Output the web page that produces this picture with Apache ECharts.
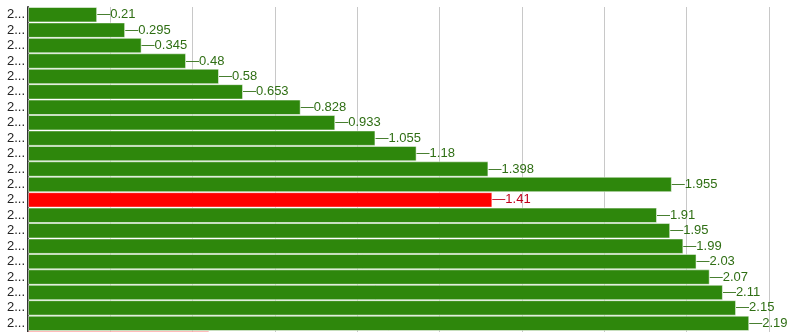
<!DOCTYPE html>
<html><head><meta charset="utf-8">
<script src="https://cdn.jsdelivr.net/npm/echarts@6/dist/echarts.min.js"></script>
<style>html,body{margin:0;padding:0;background:#fff}#c{width:792px;height:332px}</style>
</head><body><div id="c"></div>
<script>
var categories = ["2000","2001","2002","2003","2004","2005","2006","2007","2008","2009","2010","2011","2012","2013","2014","2015","2016","2017","2018","2019","2020","2021"];
var values = [0.21,0.295,0.345,0.48,0.58,0.653,0.828,0.933,1.055,1.18,1.398,1.955,1.41,1.91,1.95,1.99,2.03,2.07,2.11,2.15,2.19,0.55];
var highlighted = [12, 21];
var xTicks = {min: 0, max: 2.25, interval: 0.25};

var GREEN = '#2e870c', RED = '#ff0000';
var data = values.map(function (v, i) {
  var red = highlighted.indexOf(i) >= 0;
  return {
    value: v,
    itemStyle: {color: red ? RED : GREEN},
    label: {color: red ? '#c0001a' : '#2f6e14'}
  };
});
var chart = echarts.init(document.getElementById('c'));
chart.setOption({
  animation: false,
  grid: {left: 28, right: 23, top: 7, bottom: -14.5, outerBoundsMode: 'none', containLabel: false},
  xAxis: {
    type: 'value', min: xTicks.min, max: xTicks.max, interval: xTicks.interval,
    axisLabel: {show: false}, axisLine: {show: false}, axisTick: {show: false},
    splitLine: {lineStyle: {color: '#c8c8c8', width: 1}}
  },
  yAxis: {
    type: 'category', data: categories, inverse: true,
    axisLine: {lineStyle: {color: '#333', width: 2}},
    axisTick: {show: false},
    axisLabel: {interval: 0, margin: 3, width: 21, overflow: 'truncate', color: '#222', fontSize: 13, fontFamily: 'Liberation Sans, Arial, sans-serif'}
  },
  series: [{
    type: 'bar', data: data, barCategoryGap: 0,
    itemStyle: {borderColor: 'rgba(255,255,255,0.5)', borderWidth: 1},
    label: {show: true, position: 'right', distance: 0, fontSize: 13,
      fontFamily: 'Liberation Sans, Arial, sans-serif',
      formatter: function (p) { return '\u2014' + p.value; }}
  }]
});
</script></body></html>
